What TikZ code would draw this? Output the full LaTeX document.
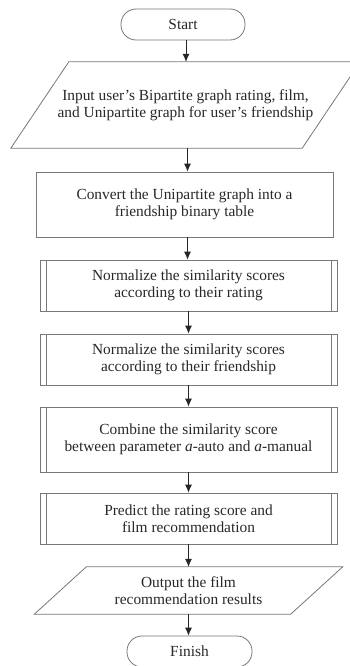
\documentclass[tikz,border=0pt]{standalone}
\usepackage{fontspec}
\setmainfont{Liberation Serif}
\usetikzlibrary{arrows.meta}
\definecolor{edgegray}{RGB}{120,120,120}
\definecolor{txt}{RGB}{40,40,40}
\begin{document}
\begin{tikzpicture}[x=1pt,y=-1pt,
  every node/.style={font=\fontsize{15.4}{17}\selectfont, text=txt, align=center, inner sep=0pt},
  term/.style={draw=edgegray, line width=0.8pt, rounded corners=15pt, minimum height=31pt},
  proc/.style={draw=edgegray, line width=0.8pt, minimum width=297pt},
  subproc/.style={draw=edgegray, line width=0.8pt, minimum width=297pt, minimum height=51pt,
    path picture={
      \draw[edgegray, line width=0.8pt] ([xshift=6pt]path picture bounding box.north west) -- ([xshift=6pt]path picture bounding box.south west);
      \draw[edgegray, line width=0.8pt] ([xshift=-6pt]path picture bounding box.north east) -- ([xshift=-6pt]path picture bounding box.south east);
    }},
  flow/.style={-{Latex[length=8pt,width=7pt]}, line width=0.8pt, draw=black!85}
]
\useasboundingbox (0,0) rectangle (350,666);
\clip (0,0) rectangle (350,666);
\fill[white] (0,0) rectangle (350,666);

\node[term, minimum width=124pt] (start) at (183,24.5) {Start};
\node[minimum width=291pt, minimum height=86pt] (in) at (185.5,105) {Input user’s Bipartite graph rating, film,\\and Unipartite graph for user’s friendship};
\draw[edgegray, line width=0.8pt] ([xshift=29pt]in.north west) -- ([xshift=29pt]in.north east) -- ([xshift=-29pt]in.south east) -- ([xshift=-29pt]in.south west) -- cycle;
\node[proc, minimum height=65pt] (conv) at (184.5,204.5) {Convert the Unipartite graph into a\\friendship binary table};
\node[subproc] (nr) at (188.5,285.5) {Normalize the similarity scores\\according to their rating};
\node[subproc] (nf) at (188.5,359.5) {Normalize the similarity scores\\according to their friendship};
\node[subproc, minimum height=65pt] (comb) at (188.5,439.5) {Combine the similarity score\\between parameter \textit{a}-auto and \textit{a}-manual};
\node[subproc] (pred) at (188.5,518.5) {Predict the rating score and\\film recommendation};
\node[minimum width=256pt, minimum height=47pt] (out) at (188.5,590.5) {Output the film\\recommendation results};
\draw[edgegray, line width=0.8pt] ([xshift=26pt]out.north west) -- ([xshift=26pt]out.north east) -- ([xshift=-26pt]out.south east) -- ([xshift=-26pt]out.south west) -- cycle;
\node[term, minimum width=125pt] (fin) at (189.5,651.5) {Finish};

\draw[flow] ([xshift=3pt]start.south) -- ([xshift=3pt]start.south |- in.north);
\draw[flow] ([xshift=2pt]in.south) -- ([xshift=2pt]in.south |- conv.north);
\draw[flow] ([xshift=3pt]conv.south) -- ([xshift=3pt]conv.south |- nr.north);
\draw[flow] (nr.south) -- (nf.north);
\draw[flow] (nf.south) -- (comb.north);
\draw[flow] (comb.south) -- (pred.north);
\draw[flow] (pred.south) -- (out.north);
\draw[flow] (out.south) -- (out.south |- fin.north);
\end{tikzpicture}
\end{document}
